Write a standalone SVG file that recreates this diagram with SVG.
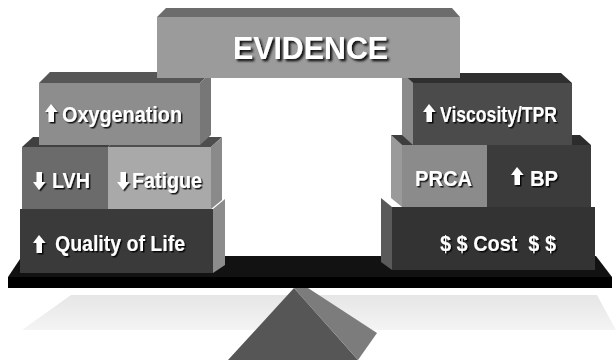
<svg xmlns="http://www.w3.org/2000/svg" xmlns:xlink="http://www.w3.org/1999/xlink" width="616" height="360" viewBox="0 0 616 360">
<defs>
<filter id="sh" x="-10%" y="-20%" width="130%" height="160%">
<feDropShadow dx="1.5" dy="1.5" stdDeviation="0.6" flood-color="#000" flood-opacity="0.85"/>
</filter>
<filter id="shb" x="-10%" y="-20%" width="130%" height="160%">
<feDropShadow dx="2.2" dy="2.2" stdDeviation="0.8" flood-color="#000" flood-opacity="0.9"/>
</filter>
<path id="up" d="M6,0 L12.5,8 L9,8 L9,18 L3.5,18 L3.5,8 L0,8 Z"/>
<path id="down" d="M6,18 L12.5,10 L9,10 L9,0 L3.5,0 L3.5,10 L0,10 Z"/>
<linearGradient id="floor" x1="0" y1="0" x2="0" y2="1">
<stop offset="0" stop-color="#e6e6e6"/>
<stop offset="1" stop-color="#f4f4f4"/>
</linearGradient>
</defs>
<style>
text{font-family:"Liberation Sans",Arial,sans-serif;font-weight:bold;fill:#fff;font-size:22px;filter:url(#sh);white-space:pre}
.ic{fill:#fff;filter:url(#sh)}
.big{font-size:31px;filter:url(#shb)}
</style>
<rect width="616" height="360" fill="#fff"/>
<g id="scale">
<polygon points="71,295 597,295 616,330 22,330" fill="url(#floor)"/>
<polygon points="294,288 228,360 358,360" fill="#565656"/>
<polygon points="294,288 308,288 377,333 358,360" fill="#7c7c7c"/>
<polygon points="22,256 596,256 612,277 8,277" fill="#121212"/>
<polygon points="8,277 612,277 612,288 8,288" fill="#000"/>
</g>
<g id="connectors"/>
<g id="quality">
<polygon points="213,209 225,199 225,265 213,273" fill="#8c8c8c"/>
<rect x="20" y="209" width="193" height="64" fill="#3a3a3a"/>
<use xlink:href="#up" class="ic" x="33" y="235"/>
<text x="55" y="251" textLength="130" lengthAdjust="spacingAndGlyphs">Quality of Life</text>
</g>
<g id="cost">
<polygon points="392,207 381,198 381,262 392,270" fill="#5a5a5a"/>
<rect x="392" y="207" width="203" height="63" fill="#333"/>
<text x="440" y="251" textLength="116" lengthAdjust="spacingAndGlyphs">$ $ Cost  $ $</text>
</g>
<g id="lvh">
<polygon points="22,147 108,147 119,137 33,137" fill="#404040"/>
<rect x="22" y="147" width="86" height="62" fill="#6b6b6b"/>
<use xlink:href="#down" class="ic" x="33" y="172"/>
<text x="52" y="188" textLength="38" lengthAdjust="spacingAndGlyphs">LVH</text>
</g>
<g id="fatigue">
<polygon points="108,147 211,147 222,137 119,137" fill="#4e4e4e"/>
<polygon points="211,147 222,137 222,200 211,209" fill="#8a8a8a"/>
<rect x="108" y="147" width="103" height="62" fill="#a9a9a9"/>
<use xlink:href="#down" class="ic" x="117" y="172"/>
<text x="132" y="188" textLength="70" lengthAdjust="spacingAndGlyphs">Fatigue</text>
</g>
<g id="prca">
<polygon points="402,145 391,135 391,198 402,207" fill="#9a9a9a"/>
<polygon points="402,145 487,145 476,135 391,135" fill="#3e3e3e"/>
<rect x="402" y="145" width="85" height="62" fill="#8b8b8b"/>
<text x="415" y="186" textLength="57" lengthAdjust="spacingAndGlyphs">PRCA</text>
</g>
<g id="bp">
<polygon points="487,145 591,145 580,135 476,135" fill="#2c2c2c"/>
<rect x="487" y="145" width="104" height="62" fill="#3b3b3b"/>
<use xlink:href="#up" class="ic" x="511" y="167"/>
<text x="530" y="186" textLength="28" lengthAdjust="spacingAndGlyphs">BP</text>
</g>
<g id="oxygenation">
<polygon points="39,83 200,83 211,72 50,72" fill="#565656"/>
<polygon points="200,83 211,72 211,135 200,145" fill="#777"/>
<rect x="39" y="83" width="161" height="62" fill="#8d8d8d"/>
<use xlink:href="#up" class="ic" x="45" y="104"/>
<text x="62" y="122" textLength="120" lengthAdjust="spacingAndGlyphs">Oxygenation</text>
</g>
<g id="viscosity">
<polygon points="413,83 402,73 402,135 413,145" fill="#8a8a8a"/>
<polygon points="413,83 572,83 561,73 402,73" fill="#2f2f2f"/>
<rect x="413" y="83" width="159" height="62" fill="#4b4b4b"/>
<use xlink:href="#up" class="ic" x="423" y="104"/>
<text x="440" y="122" textLength="117" lengthAdjust="spacingAndGlyphs">Viscosity/TPR</text>
</g>
<g id="evidence">
<polygon points="157,17 460,17 452,8 166,8" fill="#6c6c6c"/>
<rect x="157" y="17" width="303" height="61" fill="#9b9b9b"/>
<text class="big" x="233" y="59" textLength="155" lengthAdjust="spacingAndGlyphs">EVIDENCE</text>
</g>
</svg>
